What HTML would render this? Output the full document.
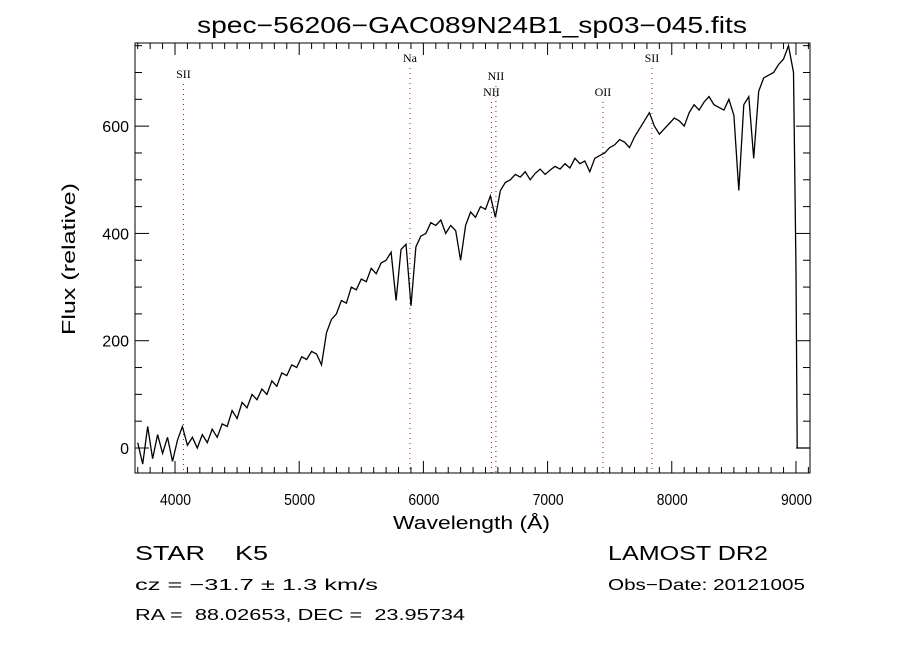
<!DOCTYPE html>
<html><head><meta charset="utf-8"><style>
body{margin:0;background:#fff;}
svg text{font-family:"Liberation Sans",sans-serif;fill:#000;white-space:pre;}
</style></head><body>
<svg id="chart" width="900" height="650" viewBox="0 0 900 650" xmlns="http://www.w3.org/2000/svg">
<rect width="900" height="650" fill="#fff"/>
<text x="197" y="33" font-size="23" textLength="550" lengthAdjust="spacingAndGlyphs">spec−56206−GAC089N24B1_sp03−045.fits</text>
<g id="lines"></g>
<g id="ticks"></g>
<polyline id="spec" fill="none" stroke="#000" stroke-width="1.3"/>
<rect x="135" y="43" width="675" height="430" fill="none" stroke="#000" stroke-width="1"/>
<text x="393" y="529" font-size="18" textLength="157" lengthAdjust="spacingAndGlyphs">Wavelength (Å)</text>
<text transform="translate(75,335) rotate(-90)" font-size="18" textLength="152" lengthAdjust="spacingAndGlyphs">Flux (relative)</text>
<text x="135" y="560" font-size="20" textLength="133" lengthAdjust="spacingAndGlyphs">STAR    K5</text>
<text x="135" y="590" font-size="16" textLength="243" lengthAdjust="spacingAndGlyphs">cz = −31.7 ± 1.3 km/s</text>
<text x="135" y="620" font-size="16" textLength="330" lengthAdjust="spacingAndGlyphs">RA =  88.02653, DEC =  23.95734</text>
<text x="608" y="560" font-size="20" textLength="160" lengthAdjust="spacingAndGlyphs">LAMOST DR2</text>
<text x="608" y="590" font-size="16" textLength="197" lengthAdjust="spacingAndGlyphs">Obs−Date: 20121005</text>
</svg>
<script>
const wlStart = 3700, wlStep = 40;
const flux = [10,-30,40,-20,25,-10,20,-25,15,40,5,20,0,25,10,35,20,45,40,70,55,85,75,100,90,110,100,125,115,140,135,155,150,170,165,180,175,155,215,240,250,275,270,300,295,315,310,335,325,345,350,365,275,370,380,265,375,395,400,420,415,425,400,415,405,350,415,440,430,450,445,470,430,480,495,500,510,505,515,500,512,520,510,518,525,520,530,522,540,530,535,515,540,545,550,560,565,575,570,560,580,595,610,625,600,585,595,605,615,610,600,625,640,630,645,655,640,635,630,650,620,480,640,655,540,665,690,695,700,715,725,750,700];
const tailWl = [9000,9010,9113];
const tailFlux = [330,0,0];
const lineNames = ["SII","Na","NII","NII","OII","SII"];
const lineWl = [4068,5892,6548,6584,7446,7840];
const lineLabelY = [78,62,96,80,96,62];
const xTicks = [4000,5000,6000,7000,8000,9000];
const yTicks = [0,200,400,600];

const X0=135,X1=810,Y0=43,Y1=473;
const xmin=3678,xmax=9113,ymin=-46.6,ymax=755;
const sx=w=>X0+(w-xmin)/(xmax-xmin)*(X1-X0);
const sy=f=>Y1-(f-ymin)/(ymax-ymin)*(Y1-Y0);
const NS="http://www.w3.org/2000/svg";

let pts=[];
flux.forEach((f,i)=>{pts.push(sx(wlStart+i*wlStep).toFixed(1)+','+sy(f).toFixed(1));});
tailWl.forEach((w,i)=>{pts.push(sx(w).toFixed(1)+','+sy(tailFlux[i]).toFixed(1));});
document.getElementById('spec').setAttribute('points',pts.join(' '));

const lg=document.getElementById('lines');
lineWl.forEach((w,i)=>{
  const x=sx(w);
  const l=document.createElementNS(NS,'line');
  l.setAttribute('x1',x);l.setAttribute('x2',x);
  l.setAttribute('y1',lineLabelY[i]+6);l.setAttribute('y2',Y1);
  l.setAttribute('stroke','#8b1a1a');l.setAttribute('stroke-dasharray','1 4');
  
  
  lg.appendChild(l);
  const t=document.createElementNS(NS,'text');
  t.setAttribute('x',x);t.setAttribute('y',lineLabelY[i]);
  t.setAttribute('text-anchor','middle');t.setAttribute('font-size','12');
  t.setAttribute('style',"font-family:'Liberation Serif',serif");
  t.textContent=lineNames[i];
  
  
  lg.appendChild(t);
});

const tg=document.getElementById('ticks');
function tick(x1,y1,x2,y2){
  const l=document.createElementNS(NS,'line');
  l.setAttribute('x1',x1);l.setAttribute('y1',y1);l.setAttribute('x2',x2);l.setAttribute('y2',y2);
  l.setAttribute('stroke','#000');l.setAttribute('stroke-width','1');
  
  
  tg.appendChild(l);
}
for(let w=3700;w<=9100;w+=100){
  const x=sx(w);const major=(w%1000===0);const len=major?12:6;
  tick(x,Y1,x,Y1-len);tick(x,Y0,x,Y0+len);
}
for(let f=0;f<=750;f+=50){
  const y=sy(f);const major=(f%200===0);const len=major?14:7;
  tick(X0,y,X0+len,y);tick(X1,y,X1-len,y);
}
xTicks.forEach(w=>{
  const t=document.createElementNS(NS,'text');
  t.setAttribute('x',sx(w)-15);t.setAttribute('y',Y1+32);
  t.setAttribute('font-size','16');
  t.setAttribute('textLength','31');t.setAttribute('lengthAdjust','spacingAndGlyphs');
  t.textContent=w;
  
  
  tg.appendChild(t);
});
yTicks.forEach(f=>{
  const t=document.createElementNS(NS,'text');
  t.setAttribute('x',X0-6);t.setAttribute('y',sy(f)+6);
  t.setAttribute('text-anchor','end');t.setAttribute('font-size','16');
  t.textContent=f;
  
  
  tg.appendChild(t);
});
</script>
</body></html>
